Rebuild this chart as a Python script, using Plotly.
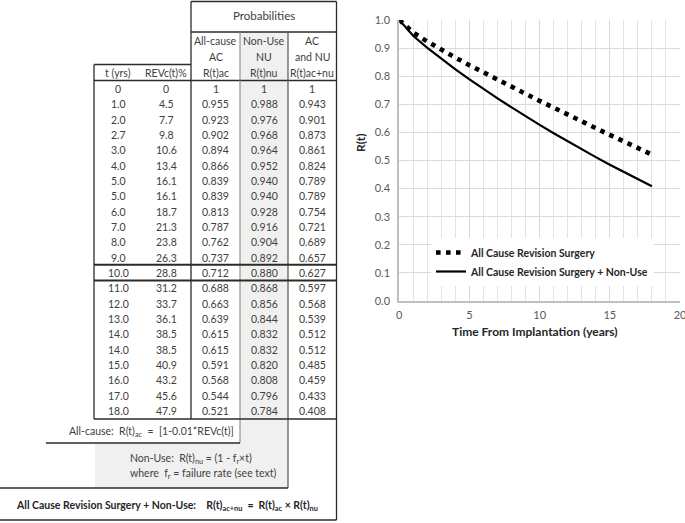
import plotly.graph_objects as go

# ---------------- data ----------------
t_yrs = [0, 1.0, 2.0, 2.7, 3.0, 4.0, 5.0, 5.0, 6.0, 7.0, 8.0, 9.0, 10.0,
         11.0, 12.0, 13.0, 14.0, 14.0, 15.0, 16.0, 17.0, 18.0]
revc_pct = [0, 4.5, 7.7, 9.8, 10.6, 13.4, 16.1, 16.1, 18.7, 21.3, 23.8, 26.3, 28.8,
            31.2, 33.7, 36.1, 38.5, 38.5, 40.9, 43.2, 45.6, 47.9]
r_ac = [1, 0.955, 0.923, 0.902, 0.894, 0.866, 0.839, 0.839, 0.813, 0.787, 0.762, 0.737, 0.712,
        0.688, 0.663, 0.639, 0.615, 0.615, 0.591, 0.568, 0.544, 0.521]
r_nu = [1, 0.988, 0.976, 0.968, 0.964, 0.952, 0.940, 0.940, 0.928, 0.916, 0.904, 0.892, 0.880,
        0.868, 0.856, 0.844, 0.832, 0.832, 0.820, 0.808, 0.796, 0.784]
r_acnu = [1, 0.943, 0.901, 0.873, 0.861, 0.824, 0.789, 0.789, 0.754, 0.721, 0.689, 0.657, 0.627,
          0.597, 0.568, 0.539, 0.512, 0.512, 0.485, 0.459, 0.433, 0.408]

series_names = ["All Cause Revision Surgery", "All Cause Revision Surgery + Non-Use"]
x_ticks = [0, 5, 10, 15, 20]
y_ticks = [0.0, 0.1, 0.2, 0.3, 0.4, 0.5, 0.6, 0.7, 0.8, 0.9, 1.0]

# ---------------- layout helpers (pixel -> paper) ----------------
W, H = 685, 523
def X(p):
    return p / W
def Y(p):
    return 1 - p / H

FONT = "Lato"
TXT = "#404040"
LINE = "#2b2b2b"

fig = go.Figure()
fig.add_trace(go.Scatter(
    x=t_yrs, y=r_ac, mode="lines", name=series_names[0],
    line=dict(color="black", width=4.6, dash="4.6px,5.4px"), cliponaxis=False))
fig.add_trace(go.Scatter(
    x=t_yrs, y=r_acnu, mode="lines", name=series_names[1],
    line=dict(color="black", width=2.2), cliponaxis=False))

shapes = []
def hline(y, x0, x1, w=1.3, c=LINE):
    shapes.append(dict(type="line", xref="paper", yref="paper",
                       x0=X(x0), x1=X(x1), y0=Y(y), y1=Y(y),
                       line=dict(color=c, width=w)))
def vline(x, y0, y1, w=1.3, c=LINE):
    shapes.append(dict(type="line", xref="paper", yref="paper",
                       x0=X(x), x1=X(x), y0=Y(y0), y1=Y(y1),
                       line=dict(color=c, width=w)))
def rect(x0, y0, x1, y1, fill):
    shapes.append(dict(type="rect", xref="paper", yref="paper", layer="below",
                       x0=X(x0), x1=X(x1), y0=Y(y0), y1=Y(y1),
                       fillcolor=fill, line=dict(width=0)))

GRAY = "#f0f0f0"
# shaded Non-Use column and box
rect(240, 32, 288, 443, GRAY)
rect(95, 443, 288, 488, GRAY)

# table column boundaries
cL, c1, c2, c3, cR = 94, 191, 240, 288, 336.5
top, prob_bot, hdr_top, hdr_bot, tab_bot = 1.5, 32, 64.5, 80.5, 419

# Probabilities box
hline(top, c1, cR)
hline(prob_bot, c1, cR)
vline(c1, top, tab_bot)
vline(cR, top, 520)
# left header box
hline(hdr_top, cL, c1)
vline(cL, hdr_top, tab_bot)
hline(hdr_bot, cL, cR)
vline(c2, prob_bot, 443, w=1.0, c="#7f7f7f")
vline(c3, prob_bot, 488, w=1.2, c="#555555")
# 10-year row box
hline(264.8, cL, cR, w=2)
hline(280.5, cL, cR, w=2)
hline(tab_bot, cL, cR, w=1.5)
# formula boxes
hline(443, 46, c2)
hline(488, 0, c3)
hline(520, 0, cR)

ann = []
def txt(x, y, s, size=10.5, anchor="center", bold=False, color=TXT):
    ann.append(dict(xref="paper", yref="paper", x=X(x), y=Y(y), text=s,
                    showarrow=False, xanchor=anchor, yanchor="middle",
                    font=dict(family=FONT, size=size, color=color,
                              weight="bold" if bold else "normal")))

col_x = [118, 166, 215.5, 264, 312]
txt(264, 15.5, "Probabilities", size=11.5)
for cx, lines in zip(col_x[2:], [["All-cause", "AC", "R(t)ac"],
                                  ["Non-Use", "NU", "R(t)nu"],
                                  ["AC", "and NU", "R(t)ac+nu"]]):
    for yy, s in zip([41.5, 57, 72.5], lines):
        txt(cx, yy, s)
txt(col_x[0], 72.5, "t (yrs)")
txt(col_x[1], 72.5, "REVc(t)%")

def fmt_t(v):
    return "0" if v == 0 else f"{v:.1f}"
def fmt_r(v):
    return "1" if v == 1 else f"{v:.3f}"

for i in range(len(t_yrs)):
    yy = 89 + i * 15.33
    txt(col_x[0], yy, fmt_t(t_yrs[i]))
    txt(col_x[1], yy, fmt_t(revc_pct[i]))
    txt(col_x[2], yy, fmt_r(r_ac[i]))
    txt(col_x[3], yy, fmt_r(r_nu[i]))
    txt(col_x[4], yy, fmt_r(r_acnu[i]))

txt(67, 432, "All-cause:  R(t)<sub>ac</sub>  =  [1-0.01*REVc(t)]", anchor="left")
txt(128, 459, "Non-Use:  R(t)<sub>nu</sub> = (1 - f<sub>r</sub>×t)", anchor="left")
txt(128, 474, "where  f<sub>r</sub> = failure rate (see text)", anchor="left")
txt(14, 506, "All Cause Revision Surgery + Non-Use:    R(t)<sub>ac+nu</sub>  =  R(t)<sub>ac</sub> × R(t)<sub>nu</sub>",
    anchor="left", bold=True, color="#262626")

# chart axis titles
ann.append(dict(xref="paper", yref="paper", x=X(360), y=Y(143), text="R(t)", textangle=-90,
                showarrow=False, xanchor="center", yanchor="middle",
                font=dict(family=FONT, size=12, color="#262626", weight="bold")))
ann.append(dict(xref="paper", yref="paper", x=X(535), y=Y(331), text="Time From Implantation (years)",
                showarrow=False, xanchor="center", yanchor="middle",
                font=dict(family=FONT, size=12, color="#262626", weight="bold")))

x0p, x1p, y0p, y1p = 399.3, 680, 301, 20
fig.update_layout(
    width=W, height=H, margin=dict(l=0, r=0, t=0, b=0),
    paper_bgcolor="white", plot_bgcolor="white",
    shapes=shapes, annotations=ann,
    showlegend=True,
    legend=dict(x=X(431), y=Y(238), xanchor="left", yanchor="top",
                bgcolor="white", borderwidth=0, tracegroupgap=0,
                font=dict(family=FONT, size=10.5, color="#262626", weight="bold")),
    xaxis=dict(domain=[X(x0p), X(x1p)], range=[0, 20], tickvals=x_ticks,
               showgrid=True, gridcolor="#d9d9d9", gridwidth=1,
               minor=dict(dtick=1, showgrid=True, gridcolor="#e3e3e3", gridwidth=1),
               showline=True, linecolor="#bfbfbf", linewidth=2, zeroline=False,
               ticks="", ticklabelstandoff=3, automargin=False, ticklabeloverflow="allow",
               tickfont=dict(family=FONT, size=11, color="#595959")),
    yaxis=dict(domain=[Y(y0p), Y(y1p)], range=[0, 1], tickvals=y_ticks, tickformat=".1f",
               showgrid=True, gridcolor="#d9d9d9", gridwidth=1,
               showline=True, linecolor="#bfbfbf", linewidth=2, zeroline=False,
               ticks="", ticklabelstandoff=5, automargin=False,
               tickfont=dict(family=FONT, size=11, color="#595959")),
)

fig.write_html("out.html", config={"displayModeBar": False},
               post_script="document.body.style.margin='0';document.body.style.overflow='hidden';")
